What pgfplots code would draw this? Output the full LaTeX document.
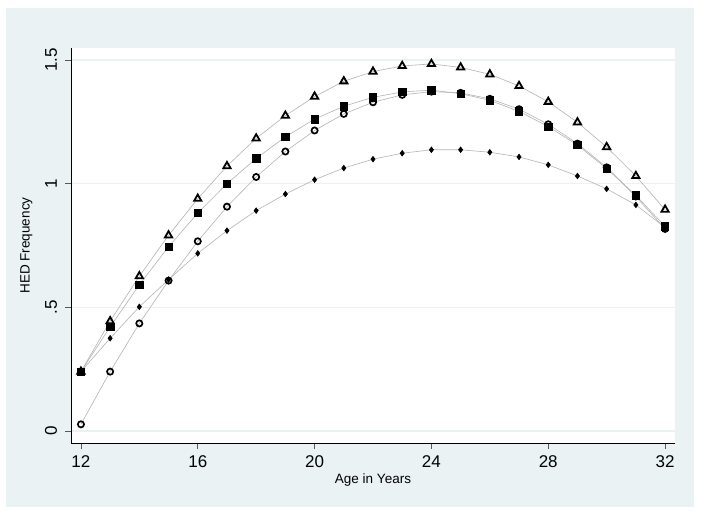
\documentclass[border=0pt]{standalone}
\usepackage{fontspec}
\setmainfont{Liberation Sans}
\usepackage{pgfplots}
\usepackage{pgfplotstable}
\pgfplotsset{compat=1.18}
\definecolor{stbg}{HTML}{EAF2F3}
\definecolor{gridc}{HTML}{EAF2F3}
\definecolor{connc}{HTML}{B4B4B4}

\pgfplotstableread{
age  tri    sq     circ   dia
12   0.240  0.240  0.027  0.240
13   0.444  0.421  0.240  0.375
14   0.626  0.591  0.435  0.502
15   0.791  0.745  0.608  0.612
16   0.939  0.881  0.767  0.718
17   1.071  1.000  0.907  0.810
18   1.183  1.102  1.027  0.891
19   1.275  1.189  1.130  0.958
20   1.352  1.261  1.215  1.016
21   1.414  1.313  1.282  1.063
22   1.453  1.349  1.329  1.099
23   1.476  1.371  1.359  1.123
24   1.484  1.378  1.372  1.137
25   1.470  1.364  1.367  1.137
26   1.442  1.337  1.343  1.127
27   1.395  1.292  1.301  1.108
28   1.331  1.231  1.240  1.076
29   1.248  1.156  1.162  1.031
30   1.148  1.061  1.066  0.979
31   1.031  0.953  0.948  0.914
32   0.895  0.827  0.817  0.823
}\hed

\begin{document}
\begin{tikzpicture}[x=1pt,y=1pt]
\fill[white] (0,0) rectangle (701,513);
\fill[stbg] (6,6) rectangle (694,505);
\begin{axis}[
    at={(71pt,70pt)}, anchor=south west,
    scale only axis,
    width=604pt, height=395pt,
    xmin=11.66, xmax=32.34,
    ymin=-0.0485, ymax=1.5485,
    axis background/.style={fill=white},
    axis x line*=bottom, axis y line*=left,
    axis line style={black, line width=0.9pt, -},
    xtick={12,16,20,24,28,32},
    ytick={0,0.5,1,1.5},
    yticklabels={0,.5,1,1.5},
    tick align=outside,
    major tick length=6pt,
    tick style={gray!70!black, line width=0.7pt},
    ymajorgrids,
    grid style={gridc, line width=1.6pt},
    /pgf/number format/assume math mode=true,
    ticklabel style={font=\fontsize{17}{20}\selectfont},
    yticklabel style={xshift=-4.5pt, rotate=90, anchor=south},
    xticklabel style={yshift=-3pt},
    xlabel={Age in Years},
    ylabel={HED Frequency},
    label style={font=\fontsize{13.5}{16}\selectfont},
    xlabel style={at={(axis description cs:0.5,0)}, anchor=north, yshift=-27pt},
    ylabel style={at={(axis description cs:0,0.5)}, anchor=south, yshift=35pt},
    every axis plot/.append style={connc, line width=0.6pt},
    clip=false,
]
\addplot[connc, mark=triangle, mark size=4.2pt, mark options={black, line width=1.8pt, solid}] table[x=age, y=tri] {\hed};
\addplot[connc, mark=square*, mark size=3.7pt, mark options={black, solid}] table[x=age, y=sq] {\hed};
\addplot[connc, mark=o, mark size=3.1pt, mark options={black, line width=1.7pt, solid}] table[x=age, y=circ] {\hed};
\addplot[connc, mark=diamond*, mark size=2.8pt, mark options={black, solid}] table[x=age, y=dia] {\hed};
\end{axis}
\end{tikzpicture}
\end{document}
